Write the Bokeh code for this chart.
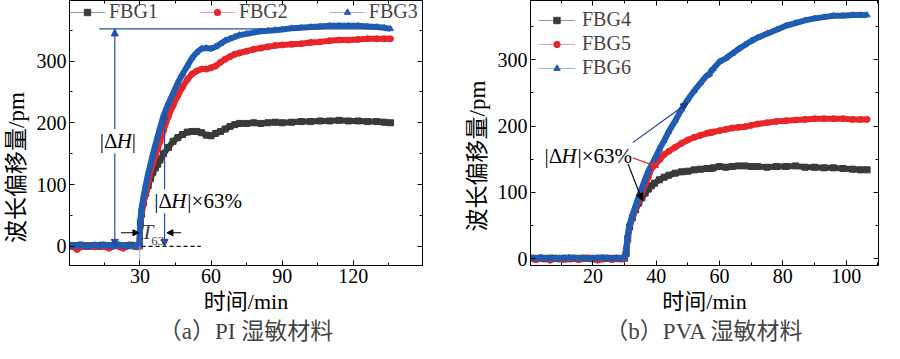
from bokeh.plotting import figure
from bokeh.layouts import row
from bokeh.models import (FixedTicker, LinearAxis, Legend, LegendItem, Label,
                          Arrow, NormalHead, Title)
from bokeh.embed import file_html
from bokeh.resources import INLINE

# ---------------- data: (a) PI ----------------
a_t = [0.5, 2, 3.5, 5, 6.5, 8, 9.5, 11, 12.5, 14, 15.5, 17, 18.5, 20, 21.5, 23, 24.5, 26, 27.5, 29, 29.8,
       30.2, 30.7, 31.5, 32.5, 33.5, 34.5, 35.5, 36.5, 37.5, 38.5,
       40, 42, 44, 46, 48, 50, 52, 54, 56, 58,
       60, 62, 64, 66, 68, 70, 72, 75, 78, 81,
       84, 87, 90, 94, 98, 102, 106, 110, 114, 118,
       122, 126, 130, 133, 135.7]
fbg1 = [1, 0, 1, 2, 1, 0, 1, 1, 0, 2, 1, 0, 1, 2, 1, 0, 1, 2, 1, 0, 1,
        38, 52, 70, 86, 98, 110, 120, 127, 133, 140,
        150, 160, 170, 176, 181, 185, 186, 186, 184, 180,
        179, 183, 186, 190, 194, 197, 199, 199, 200, 199,
        200, 201, 200, 201, 202, 202, 203, 203, 204, 203,
        203, 202, 202, 201, 200]
fbg2 = [0, -1, -5, -1, 0, 1, 0, -1, 1, 0, -1, -3, 0, 1, -1, -3, 0, 1, 0, -1, 0,
        40, 55, 70, 88, 105, 122, 134, 146, 158, 170,
        188, 210, 228, 244, 258, 270, 279, 284, 287, 287,
        289, 292, 298, 303, 307, 311, 313, 316, 319, 321,
        323, 325, 326, 327, 328, 330, 331, 333, 334, 334,
        335, 336, 336, 336, 336]
fbg3 = [2, 1, 0, 2, 1, 0, 1, 2, 1, 1, 2, 1, 0, 1, 2, 1, 0, 1, 0, 1, 1,
        42, 62, 80, 100, 118, 134, 150, 164, 178, 192,
        212, 231, 248, 265, 279, 292, 305, 314, 320, 321,
        320, 323, 328, 333, 336, 339, 342, 344, 346, 348,
        349, 350, 351, 353, 354, 355, 356, 357, 357, 357,
        357, 356, 355, 354, 352]

# ---------------- data: (b) PVA ----------------
b_t = [0.5, 2, 3.5, 5, 6.5, 8, 9.5, 11, 12.5, 14, 15.5, 17, 18.5, 20, 21.5, 23, 24.5, 26, 27.5, 29, 30,
       30.5, 31, 31.6, 32.5, 33.5, 34.5, 35.5, 36.5, 37.5, 38.5,
       39.5, 41, 42.5, 44, 46, 48, 50, 52, 54, 56,
       56.8, 57.3, 58, 60, 62, 64, 66, 68, 70, 72,
       75, 78, 81, 84, 87, 90, 93, 96, 99, 102,
       104.5, 106.6]
fbg4 = [1, 0, 1, 0, 1, 1, 0, 1, 0, 1, 0, 1, 1, 0, 1, 0, 1, 0, 1, 0, 1,
        8, 30, 48, 62, 74, 84, 92, 99, 105, 110,
        114, 119, 123, 126, 129, 131, 132, 134, 135, 136,
        136, 136, 137, 139, 138, 139, 140, 140, 139, 139,
        138, 139, 139, 140, 138, 138, 137, 137, 136, 135,
        134, 134]
fbg5 = [0, -1, 0, 1, -2, 0, 0, -1, 1, 0, -1, 0, 1, 0, -2, 0, 1, -1, 0, 0, 1,
        15, 33, 50, 64, 76, 88, 100, 112, 123, 136,
        141, 149, 157, 162, 168, 174, 179, 183, 186, 189,
        190, 190, 191, 193, 195, 197, 198, 199, 201, 203,
        205, 207, 208, 209, 210, 211, 211, 211, 211, 210,
        210, 210]
fbg6 = [1, 1, 2, 1, 1, 0, 1, 1, 2, 1, 1, 1, 0, 1, 1, 2, 1, 1, 1, 1, 2,
        10, 35, 52, 66, 80, 94, 107, 120, 132, 141,
        150, 165, 178, 192, 208, 225, 240, 253, 265, 276,
        278, 283, 286, 297, 302, 309, 316, 322, 328, 333,
        339, 345, 351, 355, 359, 362, 364, 366, 366, 367,
        367, 367]

a_xticks = [30, 60, 90, 120]
a_xminor = [15, 45, 75, 105, 135]
b_xticks = [20, 40, 60, 80, 100]
b_xminor = [10, 30, 50, 70, 90, 110]
yticks = [0, 100, 200, 300]
yminor = [50, 150, 250, 350]

BLACK = "#3a3a3a"
RED = "#e8262a"
BLUE = "#1f5db3"
LBLACK = "#9a9a9a"
LRED = "#f29a9a"
LBLUE = "#98b4e0"
ABLUE = "#1f4fa8"

SERIF = "Liberation Serif, Noto Sans CJK SC"
TICK_FS = "20px"


def style_axes(p, xt, xm, ypad):
    p.xgrid.visible = False
    p.ygrid.visible = False
    p.outline_line_color = "black"
    p.outline_line_width = 1
    p.xaxis.ticker = FixedTicker(ticks=xt, minor_ticks=xm)
    p.yaxis.ticker = FixedTicker(ticks=yticks, minor_ticks=yminor)
    for ax in (p.xaxis[0], p.yaxis[0]):
        ax.major_tick_in = 5
        ax.major_tick_out = 0
        ax.minor_tick_in = 3
        ax.minor_tick_out = 0
        ax.major_label_text_font = SERIF
        ax.major_label_text_font_size = TICK_FS
        ax.major_label_text_color = "black"
        ax.major_label_text_line_height = 1.0
        ax.axis_label_text_font = SERIF
        ax.axis_label_text_font_style = "normal"
        ax.axis_label_text_color = "black"
        ax.axis_label_text_line_height = 1.0
        ax.axis_line_color = "black"
        ax.major_tick_line_color = "black"
        ax.minor_tick_line_color = "black"
        ax.major_label_standoff = 3
    p.xaxis.axis_label = "时间/min"
    p.yaxis.axis_label = "波长偏移量/pm" + ypad
    p.xaxis.axis_label_text_font_size = "22px"
    p.yaxis.axis_label_text_font_size = "23px"
    p.xaxis.axis_label_standoff = 3
    p.yaxis.axis_label_standoff = 5
    # mirror axes (tick marks only)
    top = LinearAxis(ticker=FixedTicker(ticks=xt, minor_ticks=xm),
                     major_label_overrides={t: "" for t in xt}, major_label_standoff=0,
                     major_tick_in=5, major_tick_out=0, minor_tick_in=3, minor_tick_out=0,
                     axis_line_color="black")
    right = LinearAxis(ticker=FixedTicker(ticks=yticks, minor_ticks=yminor),
                       major_label_overrides={t: "" for t in yticks}, major_label_standoff=0,
                       major_tick_in=5, major_tick_out=0, minor_tick_in=3, minor_tick_out=0,
                       axis_line_color="black")
    p.add_layout(top, "above")
    p.add_layout(right, "right")


def series(p, t, v, color, lcolor, marker):
    thin = p.line(t, v, line_color=lcolor, line_width=1)
    p.line(t, v, line_color=color, line_width=6, line_join="round")
    sc = p.scatter(t, v, marker=marker, size=6, fill_color=color, line_color=color)
    return thin, sc


def pieces_label(p, x, y, pieces, fs="21px", bg=True):
    for txt, st, off in pieces:
        kw = dict(background_fill_color="white", background_fill_alpha=1) if bg else {}
        p.add_layout(Label(x=x, y=y, x_offset=off, text=txt, text_font=SERIF, text_font_size=fs,
                           text_font_style=st, text_baseline="middle", text_align="left",
                           text_color="black", **kw))


DH63 = [("|Δ", "normal", 0), ("H", "italic", 17), ("|×63%", "normal", 33)]
DH = [("|Δ", "normal", -18), ("H", "italic", -1), ("|", "normal", 14)]


def arrow(p, x0, y0, x1, y1, color, both=False, size=7, width=1.2):
    head = NormalHead(size=size, fill_color=color, line_color=color)
    start = NormalHead(size=size, fill_color=color, line_color=color) if both else None
    p.add_layout(Arrow(x_start=x0, y_start=y0, x_end=x1, y_end=y1, end=head, start=start,
                       line_color=color, line_width=width))


def caption(p, text):
    p.add_layout(Title(text=text, align="center", text_font=SERIF, standoff=0,
                       text_font_size="23px", text_font_style="normal",
                       text_line_height=1.0), "below")


# ---------------- panel (a) ----------------
pa = figure(width=442, height=343, x_range=(0.3, 149.2), y_range=(-31, 398),
            output_backend="svg", toolbar_location=None,
            min_border_left=62, min_border_right=20, min_border_top=0, min_border_bottom=60)
style_axes(pa, a_xticks, a_xminor, "\u3000\u3000\u3000")

a_r1 = series(pa, a_t, fbg1, BLACK, LBLACK, "square")
a_r2 = series(pa, a_t, fbg2, RED, LRED, "circle")
a_r3 = series(pa, a_t, fbg3, BLUE, LBLUE, "triangle")

# annotations (a)
pa.segment(x0=[12.8], y0=[352], x1=[135.8], y1=[352], line_color=ABLUE, line_width=1.3)
pa.segment(x0=[29.9], y0=[0], x1=[29.9], y1=[-31], line_color=LBLUE, line_width=1)
pa.segment(x0=[30.7], y0=[0], x1=[55.7], y1=[0], line_color="black", line_width=1.2,
           line_dash="4 3")
arrow(pa, 19.4, 0, 19.4, 352, ABLUE, both=True)
arrow(pa, 40.4, 0, 40.4, 217, ABLUE, both=True)
arrow(pa, 22, 22, 29.6, 22, "black", size=6)
arrow(pa, 47.4, 22, 41.4, 22, "black", size=6)

pieces_label(pa, 20.7, 170, DH)
pieces_label(pa, 36.1, 73, DH63)
pa.add_layout(Label(x=33, y=24, text="T", text_font=SERIF, text_font_size="22px",
                    text_font_style="italic", text_baseline="middle", text_align="center"))
pa.add_layout(Label(x=37.5, y=9, text="63", text_font=SERIF, text_font_size="13px",
                    text_baseline="middle", text_align="center"))

leg_a = Legend(items=[LegendItem(label="FBG1", renderers=list(a_r1)),
                      LegendItem(label="FBG2", renderers=list(a_r2)),
                      LegendItem(label="FBG3", renderers=list(a_r3))],
               orientation="horizontal", location="top_left",
               glyph_width=36, glyph_height=16, label_height=20, label_standoff=4,
               spacing=41, padding=3, margin=0, border_line_color=None,
               background_fill_alpha=0, label_text_font=SERIF, label_text_font_size="20px")
pa.add_layout(leg_a)
caption(pa, "（a）PI 湿敏材料")

# ---------------- panel (b) ----------------
pb = figure(width=442, height=343, x_range=(0.3, 110.2), y_range=(-10, 389),
            output_backend="svg", toolbar_location=None,
            min_border_left=88, min_border_right=6, min_border_top=0, min_border_bottom=60)
style_axes(pb, b_xticks, b_xminor, "\u3000\u3000")

b_r1 = series(pb, b_t, fbg4, BLACK, LBLACK, "square")
b_r2 = series(pb, b_t, fbg5, RED, LRED, "circle")
b_r3 = series(pb, b_t, fbg6, BLUE, LBLUE, "triangle")

pieces_label(pb, 4.7, 155, DH63)
arrow(pb, 32.6, 175, 50, 235, "#1a3a8c", size=7, width=1.2)
arrow(pb, 32.6, 152, 40.8, 138, RED, size=7, width=1.2)
arrow(pb, 31.1, 143, 35.6, 88, "black", size=7, width=1.2)

leg_b = Legend(items=[LegendItem(label="FBG4", renderers=list(b_r1)),
                      LegendItem(label="FBG5", renderers=list(b_r2)),
                      LegendItem(label="FBG6", renderers=list(b_r3))],
               orientation="vertical", location="top_left",
               glyph_width=37, glyph_height=16, label_height=19, label_standoff=7,
               spacing=1, padding=7, margin=8, border_line_color=None,
               background_fill_color="white", background_fill_alpha=1,
               label_text_font=SERIF, label_text_font_size="20px")
pb.add_layout(leg_b)
caption(pb, "（b）PVA 湿敏材料")

layout = row(pa, pb)
open("out.html", "w").write(file_html(layout, INLINE))
